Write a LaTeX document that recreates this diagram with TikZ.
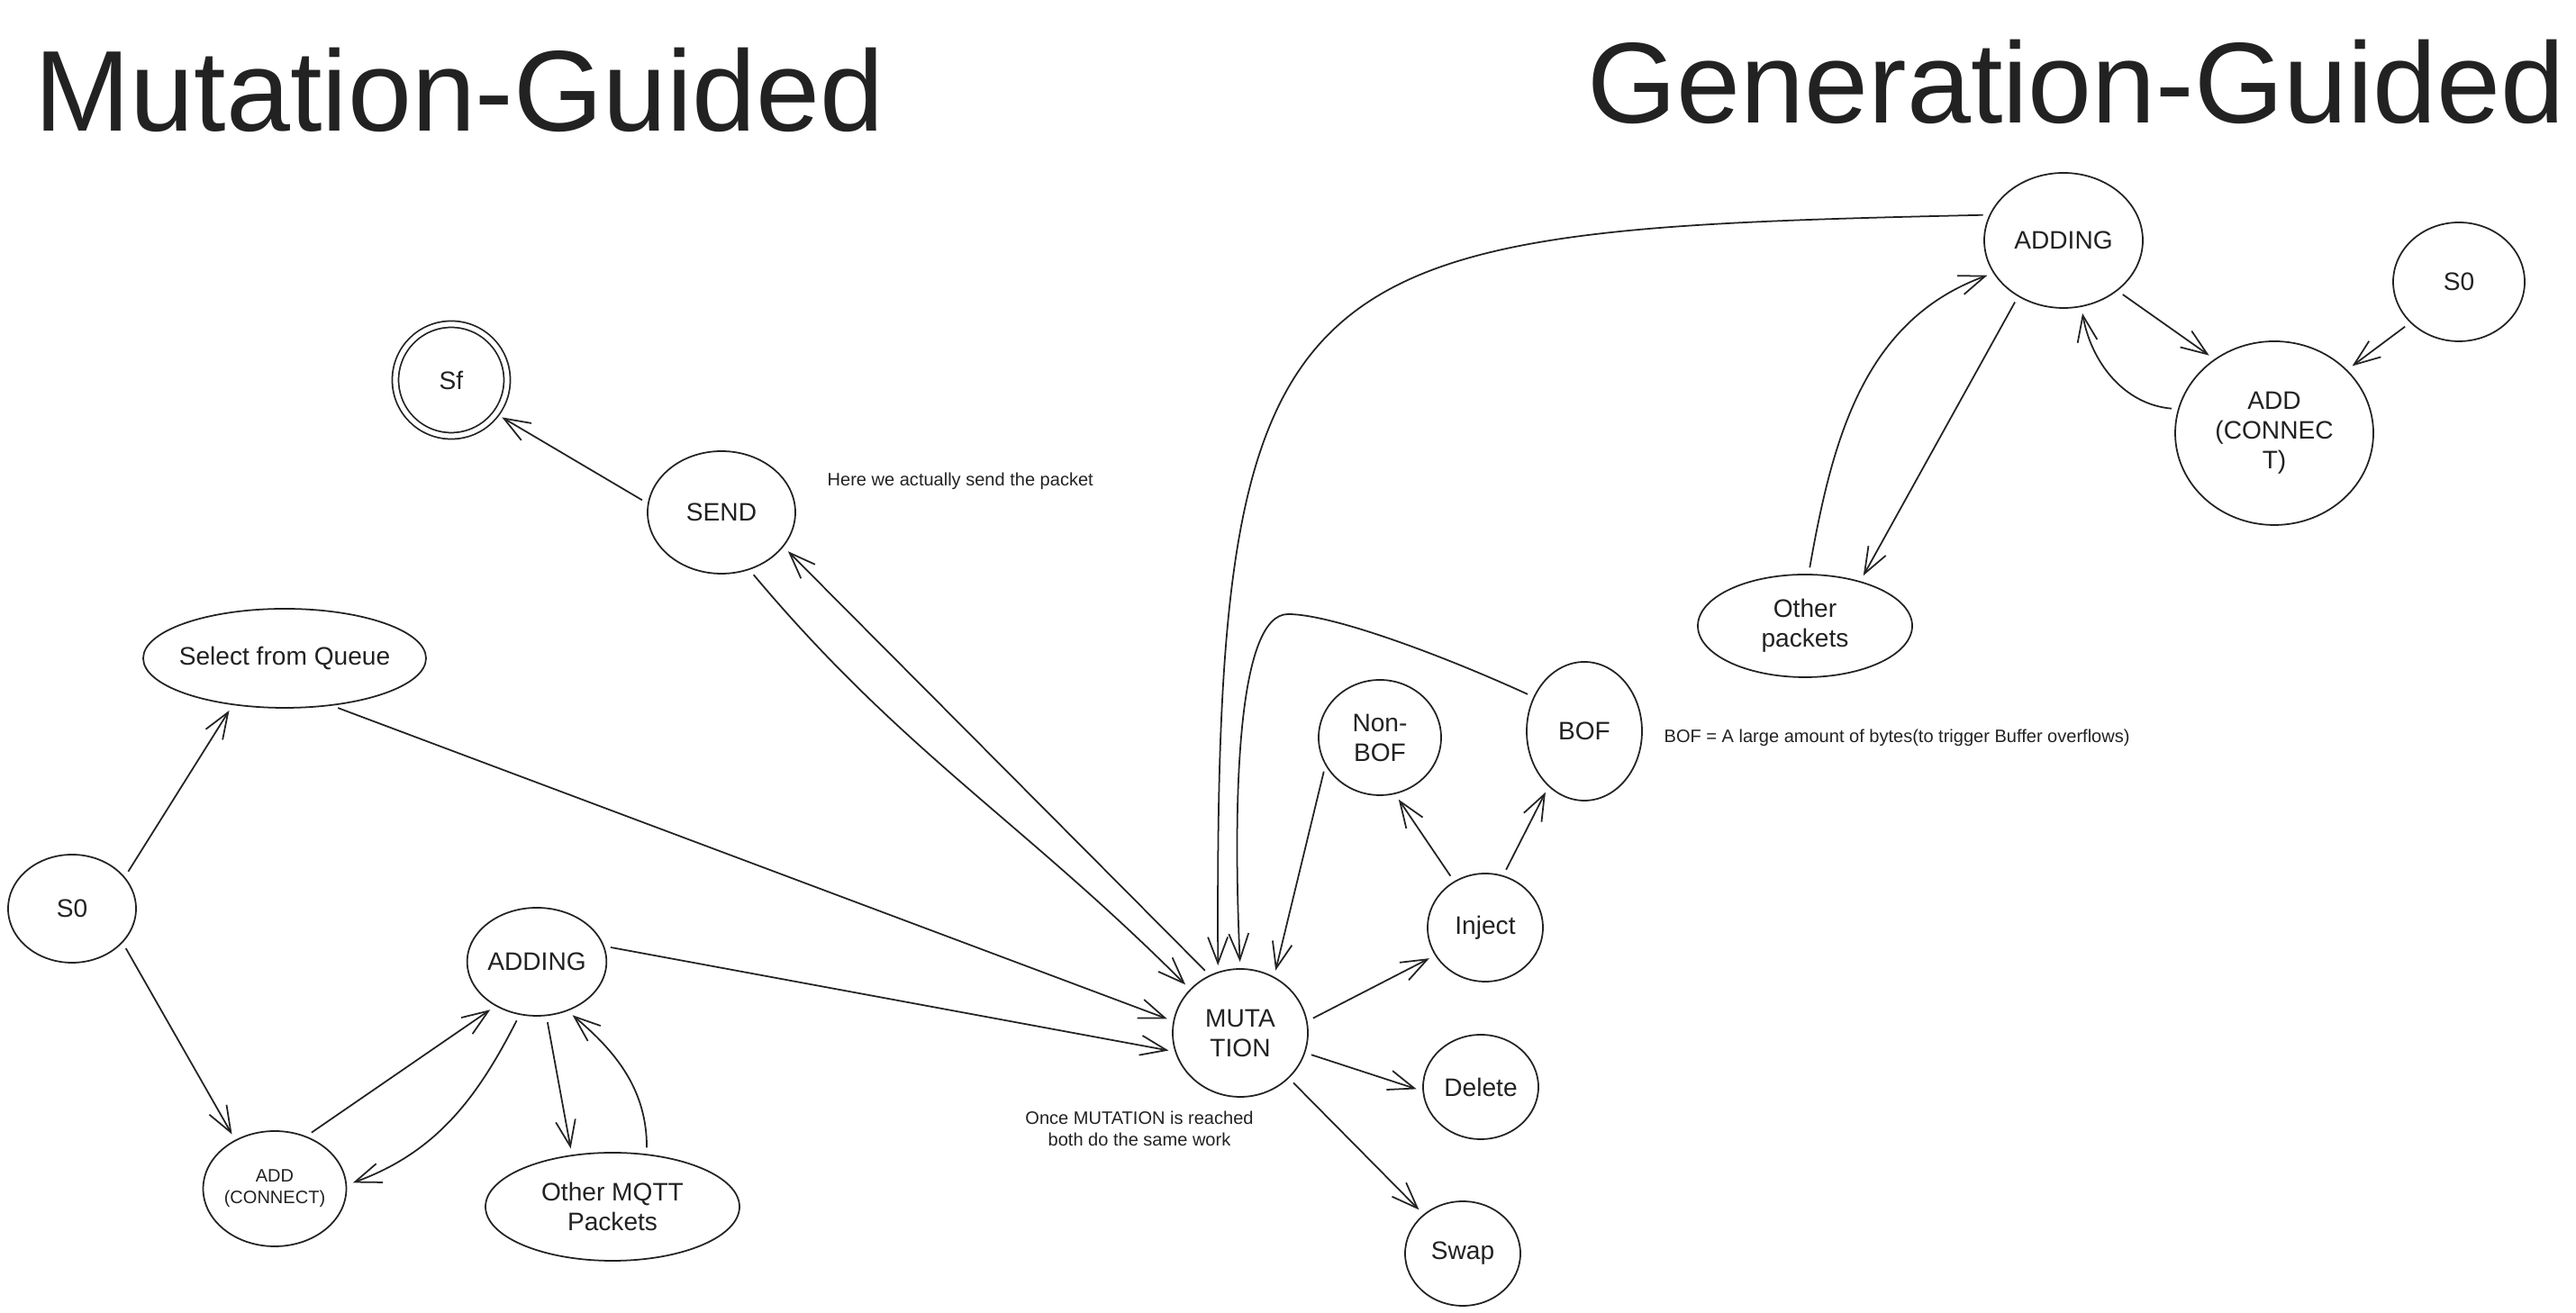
\documentclass[tikz,border=0pt]{standalone}
\usepackage{fontspec}
\setmainfont{Liberation Sans}
\usetikzlibrary{shapes.geometric, arrows.meta}

\definecolor{ink}{RGB}{34,34,34}

\tikzset{
	stnode/.style={draw=ink, ellipse, inner sep=0pt, line width=0.5pt, align=center, text=ink, font=\fontsize{8}{9.4}\selectfont},
	arr/.style={-{Straight Barb[length=2.9mm, width=2.2mm]}, draw=ink, line width=0.5pt, shorten >=2pt, shorten <=2pt},
	note/.style={inner sep=0pt, text=ink, align=center, font=\fontsize{5.7}{6.8}\selectfont},
	heading/.style={inner sep=0pt, text=ink, anchor=base west, font=\fontsize{36.3}{43}\selectfont}
}

\begin{document}
\begin{tikzpicture}

	\useasboundingbox (0, 0) rectangle (28.6, 14.58);

	% Titles

	\draw node[heading] (tmut) at (0.38, 13.12) {Mutation-Guided};

	\draw node[heading] (tgen) at (17.62, 13.21) {Generation-Guided};

	% Mutation-Guided

	\draw node[stnode, minimum width=1.42cm, minimum height=1.2cm] (s0m) at (0.80, 4.49) {S0};

	\draw node[stnode, inner xsep=-0.8mm, minimum width=3.14cm, minimum height=1.1cm] (queue) at (3.16, 7.27) {Select from Queue};

	\draw node[stnode, minimum width=1.54cm, minimum height=1.28cm, font=\fontsize{5.7}{6.8}\selectfont] (conm) at (3.05, 1.38) {ADD\\(CONNECT)};

	\draw node[stnode, minimum width=1.36cm, minimum height=1.2cm] (addm) at (5.96, 3.90) {ADDING};

	\draw node[stnode, minimum width=2.82cm, minimum height=1.2cm] (mqtt) at (6.80, 1.18) {Other MQTT\\Packets};

	\draw node[stnode, minimum width=1.64cm, minimum height=1.36cm] (send) at (8.01, 8.89) {SEND};

	\draw node[stnode, circle, minimum size=1.24cm, double=white, double distance=1.5pt] (sf) at (5.01, 10.36) {Sf};

	\draw node[note, anchor=west] (nsend) at (9.18, 9.24) {Here we actually send the packet};

	% Shared part

	\draw node[stnode, minimum width=1.5cm, minimum height=1.42cm] (mut) at (13.77, 3.11) {MUTA\\TION};

	\draw node[note] (nmut) at (12.65, 2.05) {Once MUTATION is reached\\both do the same work};

	\draw node[stnode, minimum width=1.36cm, minimum height=1.28cm] (nonbof) at (15.32, 6.39) {Non-\\BOF};

	\draw node[stnode, minimum width=1.28cm, minimum height=1.54cm] (bof) at (17.59, 6.46) {BOF};

	\draw node[note, anchor=west] (nbof) at (18.47, 6.39) {BOF = A large amount of bytes(to trigger Buffer overflows)};

	\draw node[stnode, minimum width=1.28cm, minimum height=1.2cm] (inject) at (16.49, 4.28) {Inject};

	\draw node[stnode, minimum width=1.28cm, minimum height=1.16cm] (delete) at (16.44, 2.51) {Delete};

	\draw node[stnode, minimum width=1.28cm, minimum height=1.16cm] (swap) at (16.24, 0.66) {Swap};

	% Generation-Guided

	\draw node[stnode, minimum width=1.76cm, minimum height=1.5cm] (addg) at (22.91, 11.91) {ADDING};

	\draw node[stnode, minimum width=1.46cm, minimum height=1.32cm] (s0g) at (27.30, 11.45) {S0};

	\draw node[stnode, minimum width=2.2cm, minimum height=2.04cm] (cong) at (25.25, 9.77) {ADD\\(CONNEC\\T)};

	\draw node[stnode, minimum width=2.38cm, minimum height=1.14cm] (other) at (20.04, 7.63) {Other\\packets};

	% Arrows

	\draw[arr] (s0m.31) -- (queue.222);

	\draw[arr] (s0m.-34) -- (conm.129);

	\draw[arr] (queue.-45) -- (mut.170);

	\draw[arr] (conm.59) -- (addm.-133);

	\draw[arr] (addm.-108) to[out=-117, in=20] (conm.3);

	\draw[arr] (addm.-80) -- (mqtt.128);

	\draw[arr] (mqtt.57) to[out=90, in=-40] (addm.-58);

	\draw[arr] (addm.13) -- (mut.196);

	\draw[arr] (send.173) -- (sf.-37);

	\draw[arr] (send.-64) to[out=-50, in=135] (mut.139);

	\draw[arr] (mut.118) -- (send.-29);

	\draw[arr] (addg.161) .. controls (14.26, 12.02) and (13.48, 11.84) .. (mut.110);

	\draw[arr] (bof.146) .. controls (16.09, 7.27) and (14.81, 7.76) .. (14.30, 7.76) .. controls (13.75, 7.76) and (13.68, 5.80) .. (mut.90);

	\draw[arr] (nonbof.207) -- (mut.59);

	\draw[arr] (mut.10) -- (inject.209);

	\draw[arr] (mut.-17) -- (delete.184);

	\draw[arr] (mut.-43) -- (swap.135);

	\draw[arr] (inject.124) -- (nonbof.-75);

	\draw[arr] (inject.71) -- (bof.-123);

	\draw[arr] (addg.-43) -- (cong.129);

	\draw[arr] (cong.166) to[out=175, in=-80] (addg.-75);

	\draw[arr] (s0g.-140) -- (cong.41);

	\draw[arr] (addg.-129) -- (other.39);

	\draw[arr] (other.86) to[out=80, in=200] (addg.205);

\end{tikzpicture}
\end{document}
